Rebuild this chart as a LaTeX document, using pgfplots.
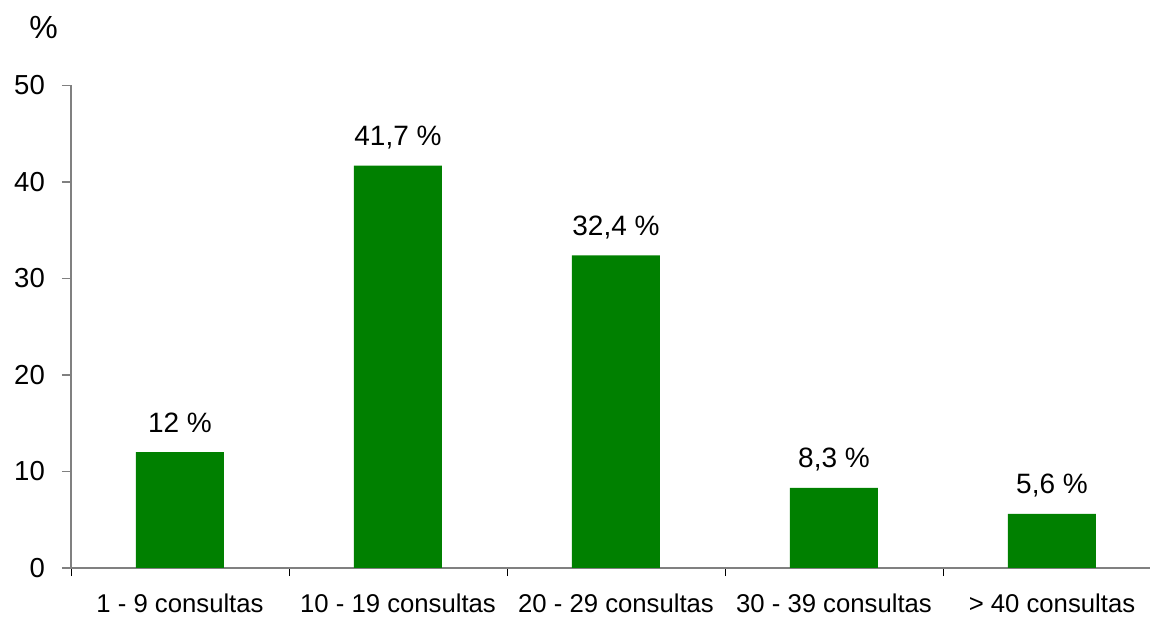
\documentclass[border=0pt]{standalone}
\usepackage{pgfplots}
\pgfplotsset{compat=1.18}
\usepackage{fontspec}
\setmainfont{Liberation Sans}
\definecolor{bargreen}{HTML}{008000}
\definecolor{axgray}{HTML}{808080}
\begin{document}
\begin{tikzpicture}[font=\fontsize{25.7bp}{30bp}\selectfont]
\begin{axis}[
  at={(0,0)}, anchor=south west,
  scale only axis, width=1079bp, height=482.5bp,
  xmin=0, xmax=4.95, ymin=0, ymax=50,
  axis x line*=bottom, axis y line*=left,
  axis line style={axgray, line width=1.3bp},
  /pgf/number format/assume math mode=true,
  ybar, bar width=88bp,
  ytick={0,10,20,30,40,50},
  xtick={0.5,1.5,2.5,3.5,4.5},
  xticklabels={1 - 9 consultas, 10 - 19 consultas, 20 - 29 consultas, 30 - 39 consultas, > 40 consultas},
  minor xtick={0,1,2,3,4},
  tick align=outside,
  major x tick style={draw=none},
  major y tick style={axgray, line width=1.3bp},
  minor x tick style={black, line width=0.8bp},
  major tick length=9bp, minor tick length=8bp,
  xticklabel style={anchor=base, inner sep=0pt, text depth=0pt, yshift=-35bp},
  yticklabel style={anchor=east, inner sep=0pt, xshift=-17bp, font=\fontsize{27.5bp}{32bp}\selectfont},
  nodes near coords={\pgfmathprintnumber[use comma]{\pgfplotspointmeta} \%},
  every node near coord/.append style={anchor=base, inner sep=0pt, yshift=20bp, black, font=\fontsize{28bp}{32bp}\selectfont},
  point meta=y,
]
\addplot[fill=bargreen, draw=none] coordinates {(0.5,12) (1.5,41.7) (2.5,32.4) (3.5,8.3) (4.5,5.6)};
\end{axis}
\node[font=\fontsize{32bp}{36bp}\selectfont] at (-27.5bp,540.5bp) {\%};
\pgfresetboundingbox
\useasboundingbox (-71bp,-49bp) rectangle (1079bp,568bp);
\end{tikzpicture}
\end{document}
